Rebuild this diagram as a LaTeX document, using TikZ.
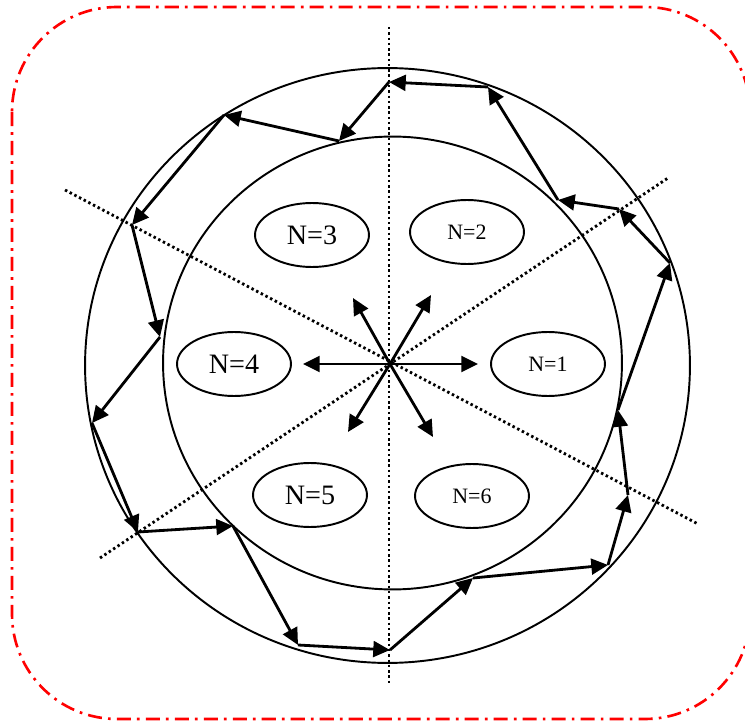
\documentclass[tikz,border=0pt]{standalone}
\usepackage{fontspec}
\setmainfont{Liberation Serif}
\usepackage{xcolor}
\usepackage{tikz}
\usetikzlibrary{positioning,arrows.meta,shapes.geometric}

\begin{document}
\begin{tikzpicture}[x=0.02cm,y=-0.02cm,>={Triangle[length=9.5pt,width=9pt]},
  zone/.style={draw,ellipse,line width=1.1pt,minimum width=2.28cm,minimum height=1.28cm,inner sep=0pt},
  big/.style={font=\fontsize{16}{19}\selectfont},
  small/.style={font=\fontsize{12.5}{15}\selectfont},
  ring/.style={line width=1.1pt},
  axis/.style={line width=1.6pt,dash pattern=on 1.4pt off 1.6pt},
  hop/.style={->,line width=1.6pt}]
  \clip (0,0) rectangle (745,723);
  % frame
  \draw[red,line width=1.5pt,dash pattern=on 8pt off 3.5pt on 1.5pt off 3.5pt,rounded corners=2.1cm]
    (12,7) rectangle (750,719);
  % rings
  \draw[ring] (387.5,365.5) ellipse [x radius=6.05cm,y radius=5.95cm];
  \draw[ring] (392.5,363) ellipse [x radius=4.59cm,y radius=4.53cm];
  % dotted axes
  \coordinate (o) at (390,364);
  \coordinate (a1) at (389,27);  \coordinate (b1) at (389,685);
  \coordinate (a2) at (65,190);  \coordinate (b2) at (698,524);
  \coordinate (a3) at (100,558); \coordinate (b3) at (668,178);
  \draw[axis] (a1) -- (b1);
  \draw[axis] (a2) -- (b2);
  \draw[axis] (a3) -- (b3);
  % zones
  \node[zone,small] (n1) at (548,364) {N=1};
  \node[zone,small] (n2) at (467,232) {N=2};
  \node[zone,big] (n3) at (312,235) {N=3};
  \node[zone,big] (n4) at (234,364) {N=4};
  \node[zone,big] (n5) at (310,495) {N=5};
  \node[zone,small] (n6) at (472,496) {N=6};
  % arrows out of the centre
  \coordinate (tR) at (478,364);
  \coordinate (tL) at (303,364);
  \coordinate (tUL) at (353,298);
  \coordinate (tUR) at (431,295);
  \coordinate (tDL) at (348,432);
  \coordinate (tDR) at (433,437);
  \foreach \t in {tR,tL,tUL,tUR,tDL,tDR}
    \draw[hop] (o) -- (\t);
  % path between the rings
  \foreach \i/\p in {1/{389,82},2/{339,141},3/{224,115},4/{132,225},5/{160,337},6/{92,423},
      7/{138,532},8/{233,526},9/{298,645},10/{390,650},11/{473,578},12/{608,565},
      13/{628,495},14/{618,410},15/{670,263},16/{619,209},17/{558,200},18/{488,87}}
    \coordinate (z\i) at (\p);
  \foreach \a/\b in {1/2,2/3,3/4,4/5,5/6,6/7,7/8,8/9,9/10,10/11,11/12,12/13,13/14,14/15,15/16,16/17,17/18,18/1}
    \draw[hop] (z\a) -- (z\b);
\end{tikzpicture}
\end{document}
